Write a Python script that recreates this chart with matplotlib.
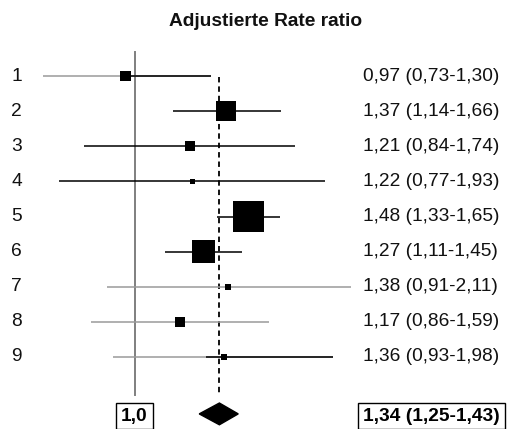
import numpy as np
import matplotlib
matplotlib.use("Agg")
import matplotlib.pyplot as plt
from matplotlib.transforms import blended_transform_factory
from matplotlib.patches import Polygon

# ---- data ----
rows = ["1", "2", "3", "4", "5", "6", "7", "8", "9"]
rr = [0.97, 1.37, 1.21, 1.22, 1.48, 1.27, 1.38, 1.17, 1.36]
lo = [0.73, 1.14, 0.84, 0.77, 1.33, 1.11, 0.91, 0.86, 0.93]
hi = [1.30, 1.66, 1.74, 1.93, 1.65, 1.45, 2.11, 1.59, 1.98]
weights = [5.2, 17.3, 4.3, 1.1, 41.6, 22.9, 1.6, 4.3, 1.6]  # % weight (square area)
black_from = [0.97, 1.14, 0.84, 0.77, 1.33, 1.11, None, None, 1.28]
labels = ["0,97 (0,73-1,30)", "1,37 (1,14-1,66)", "1,21 (0,84-1,74)",
          "1,22 (0,77-1,93)", "1,48 (1,33-1,65)", "1,27 (1,11-1,45)",
          "1,38 (0,91-2,11)", "1,17 (0,86-1,59)", "1,36 (0,93-1,98)"]
pooled = 1.34
pooled_lo = 1.25
pooled_hi = 1.43
pooled_label = "1,34 (1,25-1,43)"
ref_label = "1,0"
title = "Adjustierte Rate ratio"

plt.rcParams['font.family'] = ['Liberation Sans', 'DejaVu Sans']

DPI = 100
fig = plt.figure(figsize=(5.10, 4.29), dpi=DPI)
ax = fig.add_axes([0, 0, 1, 1])
ax.set_xscale('log')
ax.set_xlim(0.6289, 3.650)
ax.set_ylim(11.05, -1.164)
ax.axis('off')

y = np.arange(1, len(rows) + 1)
gray = '#9a9a9a'

# reference line at 1.0
ax.plot([1.0, 1.0], [0.317, 10.08], color='#7f7f7f', lw=1.4, zorder=1)
# pooled dashed line
ax.plot([pooled, pooled], [1.03, 10.08], color='black', lw=1.3,
        dashes=(3.0, 2.2), zorder=1)

for i in range(len(rows)):
    bf = black_from[i]
    if bf is None or bf > lo[i]:
        ax.plot([lo[i], hi[i]], [y[i], y[i]], color=gray, lw=1.1, zorder=2,
                solid_capstyle='butt')
    if bf is not None:
        ax.plot([bf, hi[i]], [y[i], y[i]], color='black', lw=1.1, zorder=3,
                solid_capstyle='butt')

side_px = np.sqrt(np.array(weights) * 23.08)
side_pt = side_px * 72.0 / DPI
ax.scatter(rr, y, s=side_pt ** 2, marker='s', color='black', linewidths=0,
           zorder=4)

# pooled diamond
yd = 10.62
hd = 0.31
diamond = Polygon([[pooled_lo, yd], [pooled, yd - hd], [pooled_hi, yd],
                   [pooled, yd + hd]], closed=True, color='black', zorder=4)
ax.add_patch(diamond)

tr = blended_transform_factory(ax.transAxes, ax.transData)
fs = 13.8
for i in range(len(rows)):
    ax.text(0.022, y[i], rows[i], transform=tr, fontsize=fs, va='center',
            ha='left', color='#111111')
    ax.text(0.712, y[i], labels[i], transform=tr, fontsize=fs, va='center',
            ha='left', color='#111111')

ax.text(1.0, 10.68, ref_label, fontsize=fs, fontweight='bold', ha='center',
        va='center', bbox=dict(boxstyle='square,pad=0.25', fc='white',
                               ec='black', lw=1.0))
ax.text(0.712, 10.68, pooled_label, transform=tr, fontsize=fs,
        fontweight='bold', ha='left', va='center',
        bbox=dict(boxstyle='square,pad=0.25', fc='white', ec='black', lw=1.0))

fig.text(0.52, 1 - 22 / 429, title, fontsize=fs, fontweight='bold',
         ha='center', va='center', color='#111111')

fig.savefig('out.png', dpi=DPI)
